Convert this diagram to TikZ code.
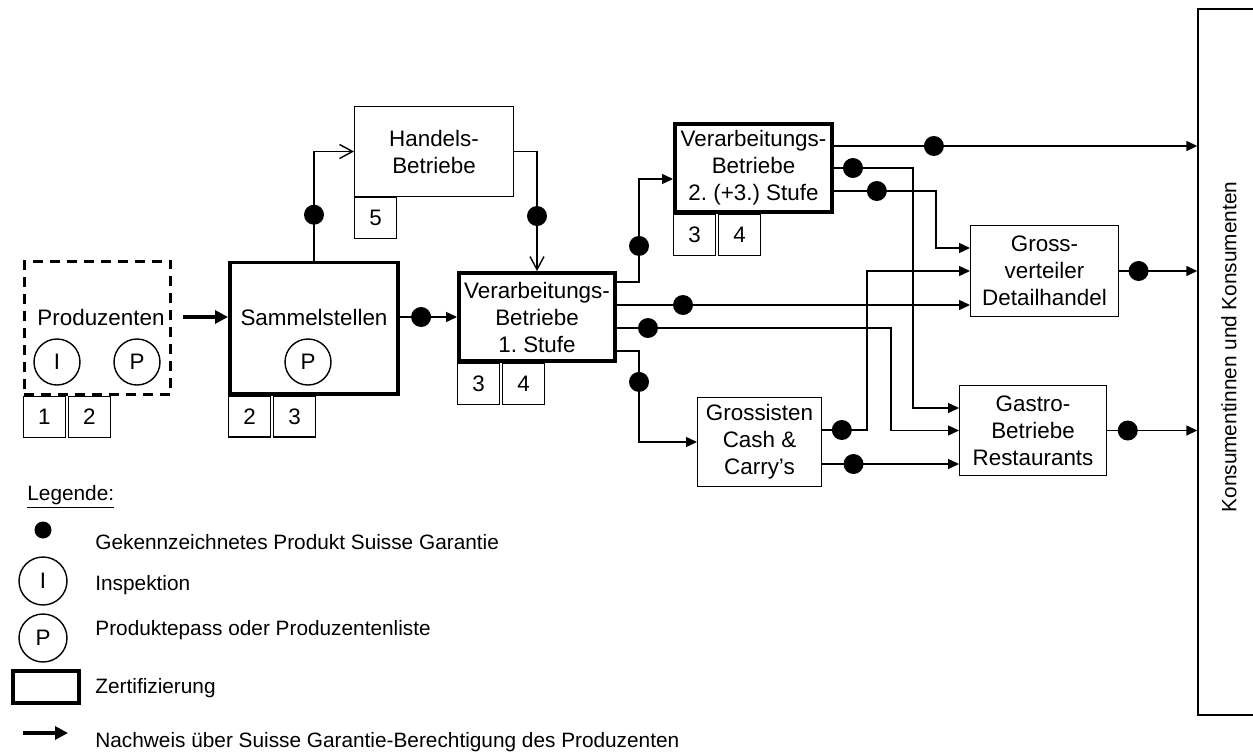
\documentclass[tikz,border=0pt]{standalone}
\usepackage{fontspec}
\setmainfont{Liberation Sans}
\usetikzlibrary{positioning,arrows.meta}
\frenchspacing

\begin{document}
\begin{tikzpicture}[x=0.5pt, y=-0.5pt,
    every node/.style={font=\fontsize{11.2}{13.5}\selectfont},
    box/.style={draw, line width=0.7pt, align=center, inner sep=0pt},
    certbox/.style={box, line width=1.8pt},
    numbox/.style={draw, line width=0.7pt, minimum width=20.8pt, minimum height=20.3pt, inner sep=0pt},
    stamp/.style={draw, circle, line width=0.7pt, minimum size=23pt, inner sep=0pt},
    dot/.style={circle, fill, inner sep=0pt, minimum size=10pt},
    flow/.style={line width=0.7pt, -{Triangle[length=5.5pt,width=5pt]}},
    trade/.style={line width=0.7pt, -{Straight Barb[length=6.5pt,width=7pt]}},
    proof/.style={line width=2pt, -{Triangle[length=6.5pt,width=6.5pt]}},
    legtext/.style={anchor=west, inner sep=0pt, font=\fontsize{10.4}{12}\selectfont}]
  \useasboundingbox (0,0) rectangle (1253,755);

  \node[draw, line width=1.35pt, dash pattern=on 5pt off 3.5pt, minimum width=73.2pt, minimum height=66.7pt] (prod) at (97.5,328) {};
  \node (prodtxt) at (101,317) {Produzenten};
  \node[stamp] (prodI) at (57,362) {I};
  \node[stamp] (prodP) at (137,362) {P};
  \node[numbox, below right=0pt and 0pt of prod.south west] (prod1) {1};
  \node[numbox, right=1pt of prod1] (prod2) {2};

  \node[certbox, minimum width=84.2pt, minimum height=65.7pt] (sam) at (314,328) {};
  \node (samtxt) at (314,317) {Sammelstellen};
  \node[stamp] (samP) at (308,362) {P};
  \node[numbox, below right=0pt and 0pt of sam.south west] (sam2) {2};
  \node[numbox, right=1pt of sam2] (sam3) {3};

  \node[box, minimum width=79.3pt, minimum height=44.8pt] (hand) at (434,151.5) {Handels-\\Betriebe};
  \node[numbox, below right=0pt and 0pt of hand.south west] (hand5) {5};

  \node[certbox, minimum width=78.2pt, minimum height=44.2pt] (va1) at (537,317) {Verarbeitungs-\\Betriebe\\1. Stufe};
  \node[numbox, below right=0pt and 0pt of va1.south west] (va1n3) {3};
  \node[numbox, right=1pt of va1n3] (va1n4) {4};

  \node[certbox, minimum width=78.7pt, minimum height=44.2pt] (va2) at (753.5,168) {Verarbeitungs-\\Betriebe\\2. (+3.) Stufe};
  \node[numbox, below right=0pt and 0pt of va2.south west] (va2n3) {3};
  \node[numbox, right=1pt of va2n3] (va2n4) {4};

  \node[box, minimum width=61.8pt, minimum height=44.3pt] (gros) at (759.5,442) {Grossisten\\Cash \&\\Carry’s};
  \node[box, minimum width=73.8pt, minimum height=45.3pt] (gv) at (1044.5,271) {Gross-\\verteiler\\Detailhandel};
  \node[box, minimum width=73.3pt, minimum height=44.8pt] (gas) at (1033,430.5) {Gastro-\\Betriebe\\Restaurants};

  \node[draw, line width=0.7pt, minimum width=56pt, minimum height=353pt] (kons) at (1254,362) {};
  \node[rotate=90, font=\fontsize{10.4}{12}\selectfont] (konstxt) at (1229,347) {Konsumentinnen und Konsumenten};

  \draw[proof] ([xshift=5.5pt,yshift=5.5pt]prod.east) -- ([yshift=5.5pt]sam.west);
  \draw[flow] ([yshift=5.5pt]sam.east) -- node[dot, pos=0.37] (d1) {} (va1.west);
  \draw[trade] (sam.north) |- node[dot, pos=0.21] (d2) {} (hand.west);
  \draw[trade] (hand.east) -| node[dot, pos=0.77] (d3) {} (va1.north);

  \draw[flow] ([yshift=17.5pt]va1.east) -- ++(22,0) |- node[dot, pos=0.175] (d4) {} ([yshift=-5.5pt]va2.west);
  \draw[flow] ([yshift=6pt]va1.east) -- node[dot, pos=0.187] (d5) {} ([yshift=6pt]va1.east -| gv.west);
  \draw[flow] ([yshift=-5.5pt]va1.east) -- node[dot, pos=0.113] (d6) {} ++(274,0) |- (gas.west);
  \draw[flow] ([yshift=-17pt]va1.east) -- ++(22,0) |- node[dot, pos=0.17] (d7) {} (gros.west);

  \draw[flow] ([yshift=11pt]va2.east) -- node[dot, pos=0.275] (d8) {} ([yshift=11pt]va2.east -| kons.west);
  \draw[flow] (va2.east) -- node[dot, pos=0.24] (d9) {} ++(79,0) |- ([yshift=11.25pt]gas.west);
  \draw[flow] ([yshift=-11.5pt]va2.east) -- node[dot, pos=0.42] (d10) {} ++(102,0) |- ([yshift=11.5pt]gv.west);

  \draw[flow] ([yshift=6pt]gros.east) -- node[dot, pos=0.44] (d11) {} ++(45,0) |- (gv.west);
  \draw[flow] ([yshift=-11pt]gros.east) -- node[dot, pos=0.23] (d12) {} ([yshift=-11pt]gros.east -| gas.west);
  \draw[flow] (gv.east) -- node[dot, pos=0.25] (d13) {} (gv.east -| kons.west);
  \draw[flow] (gas.east) -- node[dot, pos=0.23] (d14) {} (gas.east -| kons.west);

  \node[legtext] (leghead) at (27,497) {\underline{Legende:}};
  \node[dot, minimum size=8.5pt] (legdot) at (43,530) {};
  \node[legtext] (legdottxt) at (95,542) {Gekennzeichnetes Produkt Suisse Garantie};
  \node[stamp, minimum size=24pt] (legI) at (43,581) {I};
  \node[legtext] (legItxt) at (95,585) {Inspektion};
  \node[stamp, minimum size=24pt] (legP) at (43,638) {P};
  \node[legtext] (legPtxt) at (95,630) {Produktepass oder Produzentenliste};
  \node[draw, line width=2pt, minimum width=33pt, minimum height=16pt] (legcert) at (46,687) {};
  \node[legtext] (legcerttxt) at (95,688) {Zertifizierung};
  \coordinate (legA) at (23,733);
  \coordinate (legB) at (68,733);
  \draw[proof] (legA) -- (legB);
  \node[legtext] (legAtxt) at (95,742) {Nachweis über Suisse Garantie-Berechtigung des Produzenten};
\end{tikzpicture}
\end{document}
